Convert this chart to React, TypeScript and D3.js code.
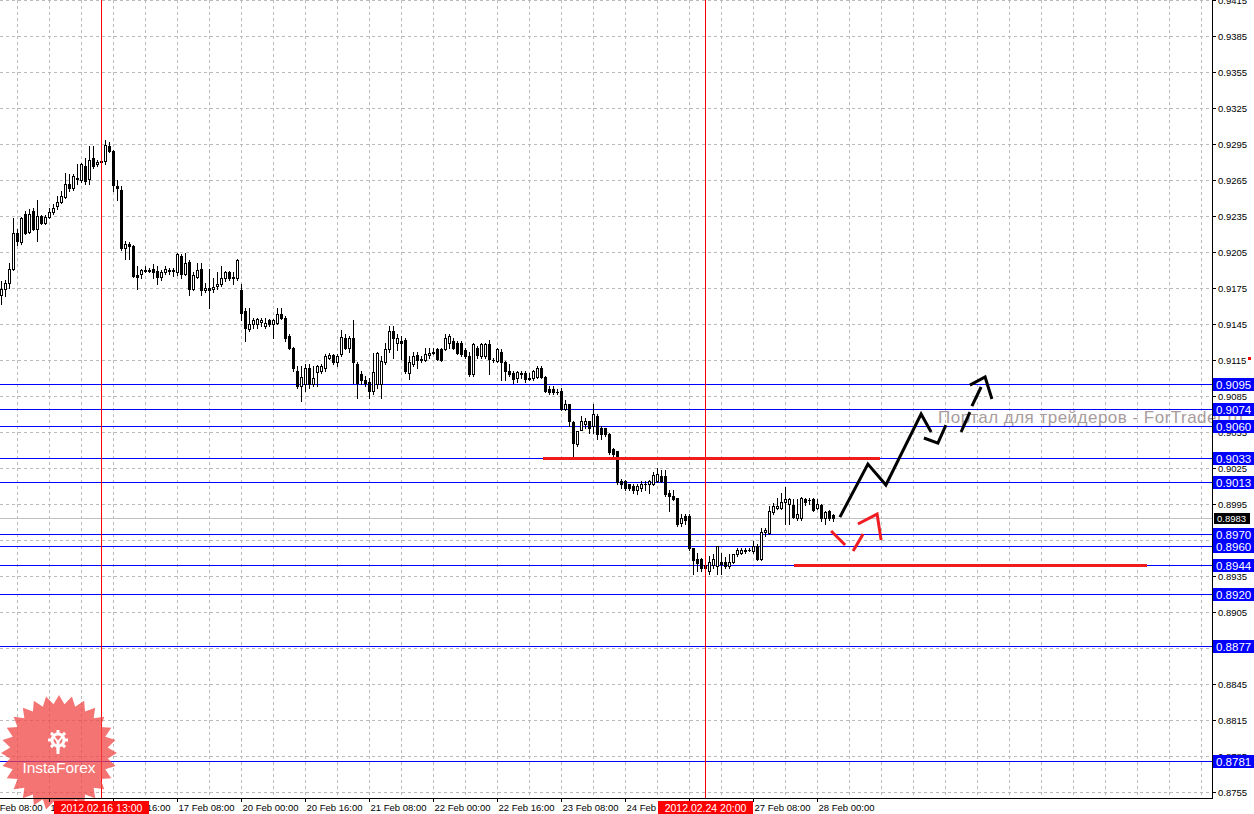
import React, { useEffect } from "react";
import * as d3 from "d3";

// ---- Data (H1 candles) ----
const opens = [
  0.9169, 0.9174, 0.9179, 0.9191, 0.9221, 0.9213, 0.9237, 0.9222, 0.9239, 0.9224,
  0.9235, 0.9229, 0.9234, 0.9238, 0.9243, 0.9247, 0.9251, 0.9262, 0.9258, 0.9266,
  0.9265, 0.9277, 0.9266, 0.9283, 0.9278, 0.928, 0.9281, 0.9293, 0.9289, 0.926,
  0.9257, 0.9208, 0.9212, 0.921, 0.9186, 0.9187, 0.9189, 0.919, 0.9191, 0.9189,
  0.9184, 0.9188, 0.919, 0.9189, 0.9188, 0.9202, 0.9187, 0.9197, 0.9174, 0.9184,
  0.9191, 0.9173, 0.9175, 0.9174, 0.9177, 0.9178, 0.9183, 0.9188, 0.9183, 0.9183,
  0.9173, 0.9156, 0.9141, 0.9145, 0.9145, 0.9147, 0.9143, 0.9148, 0.9145, 0.9146,
  0.9153, 0.915, 0.9135, 0.9125, 0.9106, 0.9093, 0.9095, 0.9108, 0.9095, 0.9105,
  0.9106, 0.9108, 0.9117, 0.9119, 0.9113, 0.912, 0.9133, 0.9125, 0.9133, 0.9112,
  0.9103, 0.9098, 0.9097, 0.9089, 0.9095, 0.9095, 0.9113, 0.9124, 0.9139, 0.9129,
  0.9131, 0.9132, 0.9104, 0.9112, 0.9119, 0.9115, 0.9115, 0.9119, 0.9121, 0.9124,
  0.9124, 0.9124, 0.9129, 0.9131, 0.9129, 0.9129, 0.9123, 0.9118, 0.9103, 0.9125,
  0.9118, 0.9118, 0.9128, 0.9115, 0.9114, 0.9122, 0.9113, 0.9106, 0.9104, 0.91,
  0.9103, 0.9104, 0.91, 0.91, 0.9101, 0.9108, 0.9101, 0.9091, 0.9091, 0.9088,
  0.9089, 0.9074, 0.9078, 0.9063, 0.9045, 0.9057, 0.9062, 0.9064, 0.906, 0.9068,
  0.9058, 0.9058, 0.9053, 0.9041, 0.9039, 0.9014, 0.9014, 0.9012, 0.901, 0.9007,
  0.9008, 0.9012, 0.9012, 0.9012, 0.9014, 0.9018, 0.9018, 0.9004, 0.9002, 0.9,
  0.8979, 0.8985, 0.8985, 0.8958, 0.8949, 0.8949, 0.8942, 0.8939, 0.8944, 0.8943,
  0.8947, 0.8947, 0.8943, 0.8947, 0.8953, 0.8954, 0.8956, 0.8957, 0.8956, 0.896,
  0.8949, 0.8972, 0.8971, 0.8988, 0.8992, 0.8992, 0.8997, 0.8995, 0.8994, 0.8983,
  0.8983, 0.8999, 0.8998, 0.8999, 0.8992, 0.8994, 0.8983, 0.8989, 0.8986,
];
const highs = [
  0.9181, 0.9182, 0.9196, 0.9233, 0.9224, 0.9234, 0.9239, 0.9241, 0.9242, 0.9248,
  0.9236, 0.9236, 0.9242, 0.9245, 0.9252, 0.9256, 0.9271, 0.927, 0.927, 0.9278,
  0.9279, 0.9283, 0.9293, 0.9293, 0.9282, 0.9285, 0.9298, 0.9297, 0.929, 0.9265,
  0.926, 0.9214, 0.9213, 0.9211, 0.9193, 0.9191, 0.9193, 0.9192, 0.9195, 0.9193,
  0.919, 0.9193, 0.9192, 0.9192, 0.9204, 0.9203, 0.9204, 0.9198, 0.9188, 0.9196,
  0.9196, 0.9179, 0.9191, 0.9183, 0.9188, 0.9193, 0.9189, 0.9189, 0.9188, 0.9199,
  0.9178, 0.9158, 0.9158, 0.915, 0.915, 0.915, 0.915, 0.9149, 0.9149, 0.9158,
  0.9158, 0.9152, 0.9137, 0.9126, 0.911, 0.911, 0.9112, 0.9112, 0.911, 0.9111,
  0.9112, 0.912, 0.9121, 0.912, 0.912, 0.914, 0.9137, 0.9135, 0.9148, 0.9113,
  0.9106, 0.9102, 0.91, 0.9121, 0.9122, 0.9118, 0.9129, 0.9143, 0.9143, 0.9137,
  0.9135, 0.9133, 0.9118, 0.9122, 0.9122, 0.9118, 0.9125, 0.9125, 0.9125, 0.9125,
  0.9125, 0.9137, 0.9137, 0.9133, 0.9131, 0.9131, 0.9125, 0.9122, 0.9129, 0.9127,
  0.9129, 0.9129, 0.9132, 0.9117, 0.9125, 0.9124, 0.9114, 0.9112, 0.9106, 0.9106,
  0.9106, 0.9106, 0.9104, 0.9107, 0.911, 0.911, 0.9102, 0.9093, 0.9093, 0.9091,
  0.9092, 0.9082, 0.9078, 0.9064, 0.9056, 0.9068, 0.9067, 0.9064, 0.9078, 0.907,
  0.906, 0.9058, 0.9054, 0.9042, 0.9039, 0.9016, 0.9015, 0.9012, 0.9012, 0.9012,
  0.9014, 0.9014, 0.9015, 0.9022, 0.9025, 0.9023, 0.9023, 0.9007, 0.9007, 0.9,
  0.8987, 0.8987, 0.8987, 0.8958, 0.8954, 0.895, 0.8948, 0.8952, 0.8953, 0.896,
  0.8954, 0.8951, 0.8953, 0.8953, 0.8958, 0.8958, 0.8958, 0.8958, 0.8964, 0.8962,
  0.8975, 0.8975, 0.8993, 0.8996, 0.9, 0.9004, 0.9009, 0.9, 0.8999, 0.8999,
  0.9001, 0.9, 0.9, 0.9, 0.8999, 0.8995, 0.8989, 0.899, 0.8987,
];
const lows = [
  0.9162, 0.9168, 0.9175, 0.919, 0.9211, 0.9212, 0.922, 0.9221, 0.9223, 0.9214,
  0.9228, 0.9228, 0.9233, 0.9237, 0.9241, 0.9246, 0.925, 0.9256, 0.9257, 0.9262,
  0.9263, 0.9262, 0.9262, 0.9275, 0.9277, 0.9277, 0.9278, 0.9288, 0.9256, 0.9248,
  0.9207, 0.9199, 0.9199, 0.9184, 0.9174, 0.9183, 0.9188, 0.9188, 0.9183, 0.9178,
  0.9182, 0.9187, 0.9187, 0.9185, 0.9186, 0.9183, 0.9186, 0.9169, 0.9173, 0.9183,
  0.9169, 0.9172, 0.9158, 0.9172, 0.9174, 0.9177, 0.9181, 0.9182, 0.9178, 0.9182,
  0.9148, 0.9131, 0.9139, 0.9142, 0.9142, 0.9143, 0.9142, 0.9143, 0.9133, 0.9145,
  0.9149, 0.9131, 0.9124, 0.9106, 0.9092, 0.9081, 0.9089, 0.9092, 0.9093, 0.9093,
  0.9104, 0.9106, 0.9116, 0.9112, 0.911, 0.9118, 0.9124, 0.9122, 0.9096, 0.9083,
  0.9095, 0.9093, 0.9083, 0.9087, 0.9092, 0.9083, 0.9112, 0.9122, 0.9117, 0.9123,
  0.9116, 0.9104, 0.9099, 0.911, 0.9108, 0.9113, 0.9114, 0.9117, 0.912, 0.9115,
  0.9114, 0.9123, 0.9125, 0.9124, 0.912, 0.9118, 0.9117, 0.9102, 0.9102, 0.9117,
  0.9117, 0.9117, 0.9103, 0.9113, 0.9113, 0.9098, 0.9098, 0.9102, 0.9096, 0.9097,
  0.91, 0.9097, 0.9098, 0.9098, 0.91, 0.91, 0.9088, 0.9087, 0.9087, 0.9087,
  0.9073, 0.9073, 0.906, 0.9034, 0.9043, 0.9057, 0.9058, 0.9054, 0.9054, 0.9049,
  0.9049, 0.9052, 0.9037, 0.9035, 0.9012, 0.9008, 0.9007, 0.9007, 0.9004, 0.9003,
  0.9006, 0.9007, 0.9004, 0.9011, 0.9013, 0.9013, 0.9002, 0.8989, 0.8998, 0.8977,
  0.8977, 0.8978, 0.8957, 0.8937, 0.8939, 0.8939, 0.8939, 0.8937, 0.8942, 0.8937,
  0.8937, 0.8942, 0.8942, 0.8946, 0.8952, 0.8953, 0.8954, 0.8956, 0.8954, 0.8948,
  0.8948, 0.8968, 0.897, 0.8987, 0.8991, 0.8991, 0.8978, 0.8978, 0.8983, 0.8982,
  0.8982, 0.8994, 0.8995, 0.8989, 0.8991, 0.8981, 0.8978, 0.8982, 0.8981,
];
const closes = [
  0.9174, 0.9179, 0.9191, 0.9221, 0.9214, 0.9233, 0.9221, 0.9237, 0.9224, 0.9235,
  0.9229, 0.9234, 0.9238, 0.9242, 0.9247, 0.9252, 0.9262, 0.9258, 0.9268, 0.9267,
  0.9278, 0.9264, 0.9282, 0.9277, 0.928, 0.9281, 0.9294, 0.9289, 0.9261, 0.9258,
  0.9208, 0.9212, 0.921, 0.9185, 0.9184, 0.919, 0.919, 0.9189, 0.9188, 0.9184,
  0.9188, 0.9191, 0.9189, 0.919, 0.9203, 0.9187, 0.9196, 0.9174, 0.9186, 0.919,
  0.9173, 0.9175, 0.9173, 0.9176, 0.9178, 0.9183, 0.9188, 0.9183, 0.9184, 0.9198,
  0.9154, 0.9142, 0.9145, 0.9148, 0.9149, 0.9148, 0.9146, 0.9145, 0.9148, 0.9153,
  0.915, 0.9133, 0.9125, 0.9108, 0.9093, 0.9101, 0.9108, 0.9095, 0.91, 0.911,
  0.911, 0.9118, 0.9119, 0.9113, 0.9118, 0.9134, 0.9125, 0.9133, 0.9113, 0.9096,
  0.9098, 0.9096, 0.9089, 0.9105, 0.9121, 0.9114, 0.9124, 0.9139, 0.9133, 0.9133,
  0.9129, 0.9106, 0.9113, 0.9118, 0.9115, 0.9116, 0.912, 0.9121, 0.9122, 0.9116,
  0.9115, 0.9133, 0.9135, 0.9125, 0.9121, 0.912, 0.9118, 0.9103, 0.9128, 0.9119,
  0.9128, 0.9128, 0.9116, 0.9115, 0.9124, 0.9113, 0.9106, 0.9103, 0.9099, 0.9105,
  0.9104, 0.9099, 0.9099, 0.9106, 0.9108, 0.9101, 0.9089, 0.9088, 0.9088, 0.9088,
  0.9074, 0.9078, 0.9064, 0.9046, 0.9056, 0.9064, 0.9064, 0.9058, 0.907, 0.9053,
  0.9053, 0.9053, 0.9038, 0.9037, 0.9013, 0.9012, 0.9008, 0.9008, 0.9007, 0.901,
  0.9012, 0.9012, 0.9014, 0.9019, 0.902, 0.9014, 0.9003, 0.9002, 0.8999, 0.8978,
  0.8983, 0.8982, 0.8958, 0.8948, 0.8946, 0.8942, 0.8944, 0.8947, 0.8949, 0.896,
  0.8945, 0.8943, 0.8947, 0.8953, 0.8957, 0.8957, 0.8957, 0.8957, 0.896, 0.8949,
  0.8972, 0.8973, 0.8989, 0.8993, 0.8993, 0.8997, 0.8999, 0.8999, 0.8984, 0.8987,
  0.9, 0.8997, 0.8998, 0.899, 0.8995, 0.8983, 0.8988, 0.8983, 0.8983,
];

const priceTicks = [
  "0.9415", "0.9385", "0.9355", "0.9325", "0.9295", "0.9265", "0.9235", "0.9205",
  "0.9175", "0.9145", "0.9115", "0.9085", "0.9055", "0.9025", "0.8995", "0.8965",
  "0.8935", "0.8905", "0.8875", "0.8845", "0.8815", "0.8785", "0.8755",
];
const levelLines = [0.9095, 0.9074, 0.906, 0.9033, 0.9013, 0.897, 0.896, 0.8944, 0.892, 0.8877, 0.8781];
const levelLabels = ["0.9095", "0.9074", "0.9060", "0.9033", "0.9013", "0.8970", "0.8960", "0.8944", "0.8920", "0.8877", "0.8781"];
const lastPrice = 0.8983;
const lastPriceLabel = "0.8983";

const timeTickBars = [-4, 12, 28, 44, 60, 76, 92, 108, 124, 140, 156, 172, 188, 204];
const timeTickLabels = [
  "15 Feb 08:00", "16 Feb 00:00", "16 Feb 16:00", "17 Feb 08:00", "20 Feb 00:00",
  "20 Feb 16:00", "21 Feb 08:00", "22 Feb 00:00", "22 Feb 16:00", "23 Feb 08:00",
  "24 Feb 00:00", "24 Feb 16:00", "27 Feb 08:00", "28 Feb 00:00",
];
const markerBars = [25, 176];
const markerLabels = ["2012.02.16 13:00", "2012.02.24 20:00"];

// thick red horizontal support/resistance segments: [fromBar, toBar, price]
const redSegments: [number, number, number][] = [
  [135.4, 219.6, 0.9033],
  [198.1, 286.4, 0.8944],
];
// hand-drawn forecast strokes in (bar index, price)
const blackStrokes: [number, number][][] = [
  [[209.6, 0.89841], [216.6, 0.90283], [221.1, 0.90108], [229.9, 0.907], [232.4, 0.9055]],
  [[230.6, 0.905], [234.1, 0.90458], [236.1, 0.90608]],
  [[239.9, 0.9055], [242.1, 0.90716]],
  [[242.6, 0.90766], [244.9, 0.90925]],
  [[242.1, 0.90941], [245.9, 0.91008], [247.6, 0.90825]],
];
const redStrokes: [number, number][][] = [
  [[207.4, 0.89725], [210.9, 0.89608]],
  [[212.9, 0.89558], [215.4, 0.897]],
  [[214.1, 0.89783], [218.9, 0.89866], [219.9, 0.8965]],
];
const bidMarker = 0.91166;

const W = 1254;
const H = 814;
const plotRight = 1212;
const plotBottom = 798;

export default function App() {
  useEffect(() => {
    document.body.style.margin = "0";
  }, []);

  const x = d3.scaleLinear().domain([0, 1]).range([1.5, 5.5]);
  const y = d3.scaleLinear().domain([0.8755, 0.9385]).range([792, 36]);
  const line = d3
    .line<[number, number]>()
    .x((d) => x(d[0]))
    .y((d) => y(d[1]));

  const font = "'Liberation Sans', Arial, sans-serif";

  const gridBars: number[] = [];
  for (let k = 4; x(k) < plotRight; k += 8) gridBars.push(k);

  // starburst logo
  const star: string[] = [];
  const N = 28;
  const cx0 = 59, cy0 = 753, R = 58, r = 49;
  for (let i = 0; i < N * 2; i++) {
    const a = (Math.PI * i) / N - Math.PI / 2;
    const rr = i % 2 === 0 ? R : r;
    star.push(`${cx0 + rr * Math.cos(a)},${cy0 + rr * Math.sin(a)}`);
  }
  const gearTeeth: number[] = d3.range(8);

  return (
    <svg
      width={W}
      height={H}
      style={{ position: "absolute", left: 0, top: 0, background: "#fff" }}
      shapeRendering="crispEdges"
    >
      <rect x={0} y={0} width={W} height={H} fill="#ffffff" />
      {/* grid */}
      <g stroke="#bdb8bd" strokeWidth={1} strokeDasharray="3,3">
        {priceTicks.map((t) => {
          const yy = Math.round(y(parseFloat(t))) + 0.5;
          return <line key={t} x1={0} x2={plotRight} y1={yy} y2={yy} />;
        })}
        {gridBars.map((k) => {
          const xx = Math.floor(x(k)) + 0.5;
          return <line key={k} x1={xx} x2={xx} y1={0} y2={plotBottom} stroke="#b8bdb8" />;
        })}
      </g>

      {/* level lines */}
      <g stroke="#0000ff" strokeWidth={1}>
        {levelLines.map((p) => {
          const yy = Math.round(y(p)) + 0.5;
          return <line key={p} x1={0} x2={plotRight} y1={yy} y2={yy} />;
        })}
      </g>
      <line
        x1={0}
        x2={plotRight}
        y1={Math.round(y(lastPrice)) + 0.5}
        y2={Math.round(y(lastPrice)) + 0.5}
        stroke="#c0c0c0"
      />

      {/* watermark */}
      <text
        x={938}
        y={423}
        fontFamily={font}
        fontSize={17}
        fill="#a89c9c"
        textLength={305}
        lengthAdjust="spacing"
      >
        Портал для трейдеров - ForTrader.ru
      </text>

      {/* candles */}
      <g>
        {opens.map((o, k) => {
          const c = closes[k];
          const col = Math.round(x(k) - 1.5);
          const yH = Math.round(y(highs[k]));
          const yL = Math.round(y(lows[k]));
          const top = Math.round(y(Math.max(o, c)));
          const bot = Math.round(y(Math.min(o, c)));
          const bull = c > o;
          return (
            <g key={k}>
              <line x1={col + 1.5} x2={col + 1.5} y1={yH} y2={yL + 1} stroke="#000" />
              {bot - top < 1 ? (
                <line x1={col} x2={col + 3} y1={top + 0.5} y2={top + 0.5} stroke="#000" />
              ) : bull ? (
                <rect x={col + 0.5} y={top + 0.5} width={2} height={bot - top} fill="#fff" stroke="#000" />
              ) : (
                <rect x={col} y={top} width={3} height={bot - top + 1} fill="#000" />
              )}
            </g>
          );
        })}
      </g>

      {/* vertical marker lines */}
      {markerBars.map((k) => {
        const xx = Math.floor(x(k)) + 0.5;
        return <line key={k} x1={xx} x2={xx} y1={0} y2={plotBottom} stroke="#ff0000" />;
      })}

      {/* red thick segments */}
      {redSegments.map(([a, b, p], i) => (
        <line key={i} x1={x(a)} x2={x(b)} y1={Math.round(y(p)) + 0.5} y2={Math.round(y(p)) + 0.5} stroke="#f01c1c" strokeWidth={3} />
      ))}

      {/* forecast strokes */}
      <g fill="none" strokeWidth={3} strokeLinejoin="miter" shapeRendering="auto">
        {blackStrokes.map((s, i) => (
          <path key={"b" + i} d={line(s) || ""} stroke="#000" />
        ))}
        {redStrokes.map((s, i) => (
          <path key={"r" + i} d={line(s) || ""} stroke="#f01c24" />
        ))}
      </g>

      {/* InstaForex logo */}
      <g shapeRendering="auto">
        <polygon points={star.join(" ")} fill="#f04545" opacity={0.75} />
        <g stroke="#fff" fill="none">
          <circle cx={58} cy={740} r={6} strokeWidth={3} />
          {gearTeeth.map((i) => {
            const a = (Math.PI * 2 * i) / 8;
            return (
              <line
                key={i}
                x1={58 + 7 * Math.cos(a)}
                y1={740 + 7 * Math.sin(a)}
                x2={58 + 10 * Math.cos(a)}
                y2={740 + 10 * Math.sin(a)}
                strokeWidth={3}
              />
            );
          })}
          <line x1={58} x2={58} y1={741} y2={754} strokeWidth={3} />
          <path d="M54,737 L58,742 L62,737" strokeWidth={2} />
        </g>
        <text x={59} y={773} textAnchor="middle" fontFamily={font} fontSize={15.5} fill="#fff">
          InstaForex
        </text>
      </g>

      {/* axes frame */}
      <line x1={plotRight + 0.5} x2={plotRight + 0.5} y1={0} y2={plotBottom + 1} stroke="#000" />
      <line x1={0} x2={plotRight + 1} y1={plotBottom + 0.5} y2={plotBottom + 0.5} stroke="#000" />

      {/* price axis labels */}
      <g fontFamily={font} fontSize={9.5} fill="#000">
        {priceTicks.map((t) => {
          const yy = Math.round(y(parseFloat(t)));
          return (
            <g key={t}>
              <line x1={plotRight + 1} x2={plotRight + 4} y1={yy + 0.5} y2={yy + 0.5} stroke="#000" />
              <text x={1218} y={yy + 3.5}>{t}</text>
            </g>
          );
        })}
      </g>

      {/* time axis labels */}
      <g fontFamily={font} fontSize={9.5} fill="#000">
        {timeTickBars.map((k, i) => {
          const xx = Math.floor(x(k)) + 0.5;
          return (
            <g key={k}>
              <line x1={xx} x2={xx} y1={plotBottom} y2={plotBottom + 4} stroke="#000" />
              <text x={xx + 1} y={811}>{timeTickLabels[i]}</text>
            </g>
          );
        })}
      </g>

      {/* marker time labels */}
      {markerBars.map((k, i) => {
        const xx = Math.floor(x(k)) + 0.5;
        return (
          <g key={k}>
            <rect x={xx - 48} y={801} width={95} height={13} fill="#ff0000" />
            <text x={xx} y={812} textAnchor="middle" fontFamily={font} fontSize={10.5} fill="#fff">
              {markerLabels[i]}
            </text>
          </g>
        );
      })}

      {/* level labels */}
      {levelLines.map((p, i) => {
        const yy = Math.round(y(p));
        return (
          <g key={p}>
            <rect x={1213} y={yy - 6} width={41} height={13} fill="#0000ff" />
            <text x={1216} y={yy + 4.5} fontFamily={font} fontSize={11.5} fill="#fff">
              {levelLabels[i]}
            </text>
          </g>
        );
      })}
      <rect x={1214} y={Math.round(y(lastPrice)) - 5} width={36} height={11} fill="#000" />
      <text x={1217} y={Math.round(y(lastPrice)) + 3.5} fontFamily={font} fontSize={9.5} fill="#fff">
        {lastPriceLabel}
      </text>
      <rect x={1248} y={Math.round(y(bidMarker)) - 1} width={3} height={3} fill="#ff0000" />
    </svg>
  );
}
